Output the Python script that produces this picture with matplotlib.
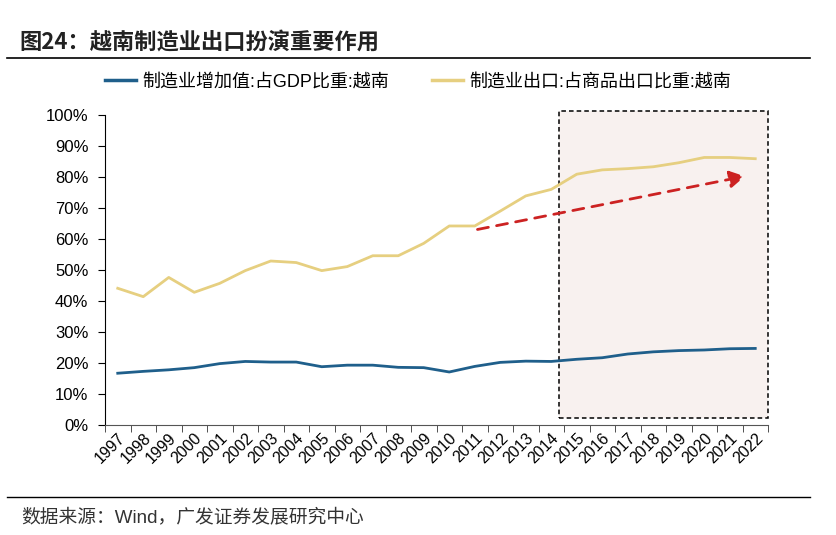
import matplotlib
matplotlib.use("Agg")
import matplotlib.pyplot as plt
from matplotlib.patches import Rectangle, FancyArrowPatch
from matplotlib.lines import Line2D

plt.rcParams['font.family'] = ['Liberation Sans', 'Noto Sans CJK SC', 'DejaVu Sans']

years = [str(y) for y in range(1997, 2023)]
mfg_gdp = [16.7, 17.3, 17.8, 18.5, 19.8, 20.5, 20.3, 20.3, 18.8, 19.3, 19.3, 18.6, 18.5, 17.1,
           18.9, 20.2, 20.6, 20.5, 21.2, 21.7, 22.9, 23.6, 24.0, 24.2, 24.6, 24.7]
mfg_export = [44.1, 41.4, 47.6, 42.8, 45.7, 49.8, 52.9, 52.4, 49.8, 51.1, 54.6, 54.6, 58.6, 64.2,
              64.2, 69.0, 73.9, 76.0, 80.9, 82.3, 82.7, 83.3, 84.6, 86.3, 86.3, 85.9]
yticks = [0, 10, 20, 30, 40, 50, 60, 70, 80, 90, 100]
series_names = ['制造业增加值:占GDP比重:越南', '制造业出口:占商品出口比重:越南']
title = '图24：越南制造业出口扮演重要作用'
source = '数据来源：Wind，广发证券发展研究中心'

fig = plt.figure(figsize=(8.36, 5.35), dpi=100)
ax = fig.add_axes([105/836, 1-425/535, (768-105)/836, (425-115)/535])

x = list(range(len(years)))
blue = '#1f5f8b'
yellow = '#e6cf80'

# highlighted box
box = Rectangle((17.3, 2.4), 25.5 - 17.3, 101.3 - 2.4, facecolor='#f8f1ef', edgecolor='black',
                linestyle=(0, (3, 2)), linewidth=1.1, clip_on=False, zorder=0)
ax.add_patch(box)

ax.plot(x, mfg_gdp, color=blue, lw=2.0, zorder=3)
ax.plot(x, mfg_export, color=yellow, lw=2.0, zorder=3)

arrow = FancyArrowPatch((14.0, 62.9), (24.7, 80.4), arrowstyle='-|>,head_length=7,head_width=4',
                        color='#cc2222', linestyle=(0, (4, 3)), lw=2.0, mutation_scale=1.3, zorder=4)
ax.add_patch(arrow)

ax.set_xlim(-0.5, 25.5)
ax.set_ylim(0, 100)
ax.set_yticks(yticks)
ax.set_yticklabels([f'{v}%' for v in yticks], fontsize=12)
ax.set_xticks(x)
ax.set_xticklabels(years, rotation=45, fontsize=11.5, ha='right', va='top',
                   rotation_mode='anchor')
ax.set_xticks([i - 0.5 for i in range(len(years) + 1)], minor=True)
ax.tick_params(axis='x', which='major', length=0, pad=4)
ax.tick_params(axis='x', which='minor', length=5, direction='out', color='#333333')
ax.tick_params(axis='y', length=5, direction='out', pad=7)
for s in ['top', 'right']:
    ax.spines[s].set_visible(False)
ax.spines['bottom'].set_color('#555555')

# legend
handles = [Line2D([], [], color=blue, lw=2.5), Line2D([], [], color=yellow, lw=2.5)]
fig.legend(handles, series_names, loc='center', bbox_to_anchor=(418/836, 1-82/535), ncol=2,
           frameon=False, handlelength=1.7, columnspacing=2.4, handletextpad=0.35,
           prop={'family': ['Liberation Sans', 'Noto Sans CJK SC'], 'size': 13})

# title and lines
fig.text(19/836, 1-42/535, title, fontsize=16, fontweight='bold', va='center', ha='left',
         family=['Noto Sans CJK SC'], color='#222222')
fig.add_artist(Line2D([7/836, 810/836], [1-58/535, 1-58/535], color='black', lw=1.2))
fig.add_artist(Line2D([7/836, 810/836], [1-497/535, 1-497/535], color='black', lw=1.0))
fig.text(21/836, 1-517/535, source, fontsize=13.5, va='center', ha='left', color='#333333')

fig.savefig('out.png', dpi=100)
